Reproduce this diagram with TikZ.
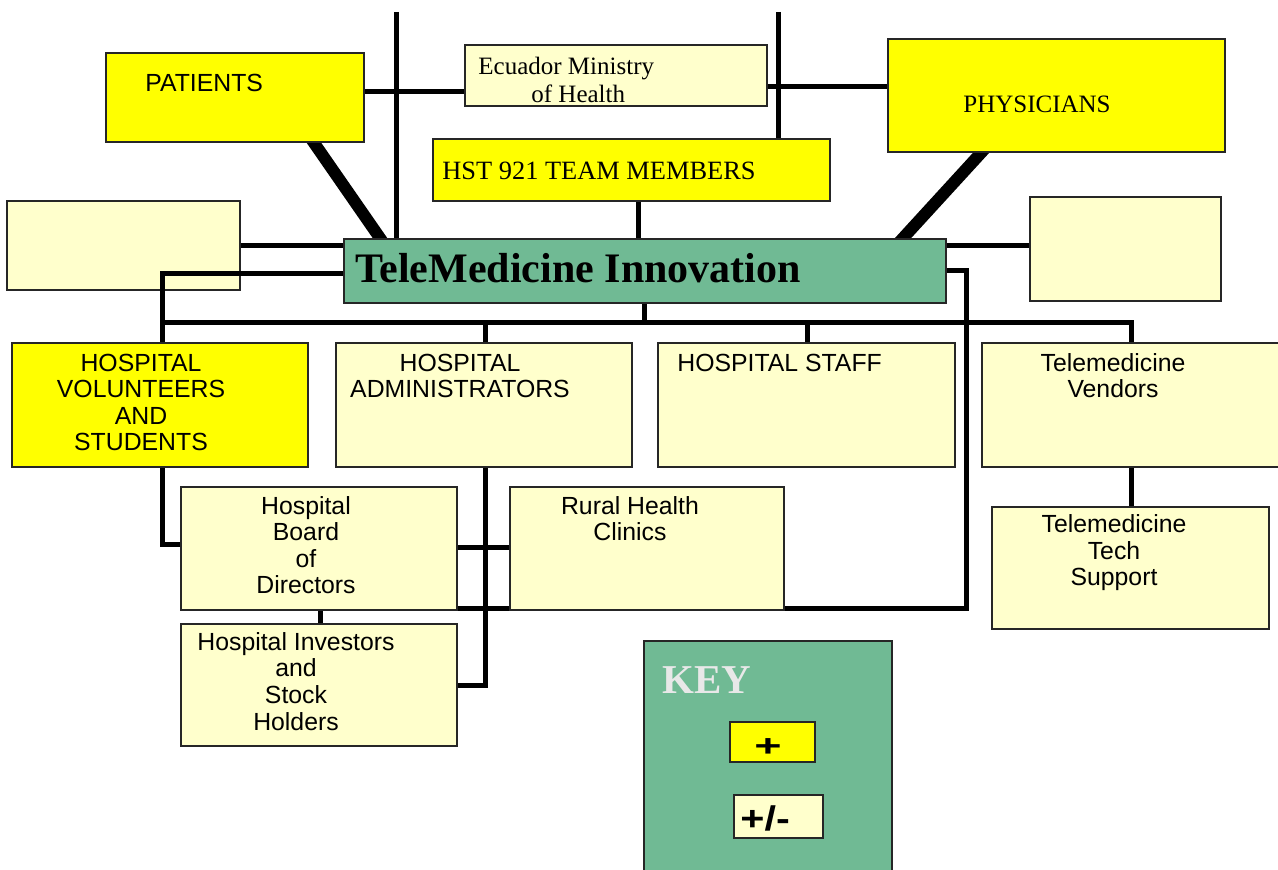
\documentclass[tikz,border=0pt]{standalone}
\usepackage{fontspec}
\setmainfont{Liberation Serif}
\setsansfont{Liberation Sans}
\usetikzlibrary{fit,backgrounds}
\definecolor{plusyellow}{RGB}{255,255,0}
\definecolor{mixyellow}{RGB}{255,255,204}
\definecolor{coregreen}{RGB}{112,186,148}
\definecolor{keygray}{RGB}{232,232,232}
\tikzset{
  plusbox/.style={draw=black!85, line width=0.9pt, fill=plusyellow, inner sep=0pt},
  mixbox/.style={plusbox, fill=mixyellow},
  corebox/.style={plusbox, fill=coregreen},
  link/.style={line width=2.5pt},
  heavy/.style={line width=6pt, shorten <=-4pt, shorten >=-4pt},
  sanstxt/.style={inner sep=0pt, align=center, font=\sffamily\fontsize{12.4}{13.3}\selectfont},
  seriftxt/.style={inner sep=0pt, align=left, font=\rmfamily\fontsize{12.5}{14}\selectfont}
}
\begin{document}
\begin{tikzpicture}[x=0.5pt, y=-0.5pt]
\useasboundingbox (0,0) rectangle (1278,870);
\node[plusbox, fit={(106,53) (364,142)}] (pat) {};
\node[mixbox, fit={(465,45) (767,106)}] (eco) {};
\node[plusbox, fit={(433,139) (830,201)}] (hst) {};
\node[plusbox, fit={(888,39) (1225,152)}] (phy) {};
\node[mixbox, fit={(7,201) (240,290)}] (lblank) {};
\node[mixbox, fit={(1030,197) (1221,301)}] (rblank) {};
\node[corebox, fit={(344,239) (946,303)}] (tm) {};
\node[plusbox, fit={(12,343) (308,467)}] (vol) {};
\node[mixbox, fit={(336,343) (632,467)}] (adm) {};
\node[mixbox, fit={(658,343) (955,467)}] (stf) {};
\node[mixbox, fit={(982,343) (1290,467)}] (ven) {};
\node[mixbox, fit={(181,487) (457,610)}] (brd) {};
\node[mixbox, fit={(510,487) (784,610)}] (rur) {};
\node[mixbox, fit={(181,624) (457,746)}] (inv) {};
\node[mixbox, fit={(992,507) (1269,629)}] (tec) {};
\node[corebox, fit={(644,641) (892,880)}] (key) {};
\node[plusbox, fit={(730,722) (815,762)}] (kplus) {};
\node[mixbox, fit={(734,795) (823,838)}] (kmix) {};

\begin{pgfonlayer}{background}
\draw[heavy] (pat.south -| 314,0) -- (tm.north -| 380,0);
\draw[heavy] (phy.south -| 981,0) -- (tm.north -| 903,0);
\end{pgfonlayer}

\coordinate (topL) at (396,12);
\coordinate (topR) at (778,12);
\coordinate (busL) at (162,323);
\draw[link] (topL) -- (topL |- tm.north);
\draw[link] (topR) -- (topR |- hst.north);
\draw[link] (pat.east |- 0,92) -- (eco.west |- 0,92);
\draw[link] (eco.east |- 0,87) -- (phy.west |- 0,87);
\draw[link] (hst.south -| 638,0) -- (tm.north -| 638,0);
\draw[link] (lblank.east |- 0,246) -- (tm.west |- 0,246);
\draw[link] (tm.east |- 0,246) -- (rblank.west |- 0,246);
\draw[link] (tm.west |- 0,274) -| (vol.north -| 162,0);
\draw[link] (busL) -| (ven.north -| 1131,0);
\foreach \x/\n in {485/adm,807/stf}
  \draw[link] (\x,323) -- (\n.north -| \x,0);
\draw[link] (tm.south -| 644,0) -- (644,323);
\draw[link] (tm.east |- 0,271) -| (966,608) -- (rur.east |- 0,608);
\draw[link] (ven.south -| 1131,0) -- (tec.north -| 1131,0);
\draw[link] (vol.south -| 162,0) |- (brd.west |- 0,545);
\draw[link] (brd.south -| 320,0) -- (inv.north -| 320,0);
\draw[link] (adm.south -| 485,0) |- (inv.east |- 0,685);
\draw[link] (brd.east |- 0,548) -- (rur.west |- 0,548);
\draw[link] (brd.east |- 0,608) -- (rur.west |- 0,608);

\node[sanstxt, anchor=base west] (patT) at (145,92) {PATIENTS};
\node[seriftxt, anchor=base west] (ecoT) at (478,103) {Ecuador Ministry\\\hspace*{26.5pt}of Health};
\node[seriftxt, font=\rmfamily\fontsize{13.2}{15}\selectfont, anchor=base west] (hstT) at (442,180) {HST 921 TEAM MEMBERS};
\node[seriftxt, anchor=base west] (phyT) at (963,113) {PHYSICIANS};
\node[inner sep=0pt, font=\rmfamily\bfseries\fontsize{21}{24}\selectfont, anchor=base west] (tmT) at (355,283) {TeleMedicine Innovation};
\node[sanstxt, anchor=base] (volT) at (141,451) {HOSPITAL\\VOLUNTEERS\\AND\\STUDENTS};
\node[sanstxt, anchor=base] (admT) at (460,398) {HOSPITAL\\ADMINISTRATORS};
\node[sanstxt, anchor=base west] (stfT) at (677,372) {HOSPITAL STAFF};
\node[sanstxt, anchor=base] (venT) at (1113,398) {Telemedicine\\Vendors};
\node[sanstxt, anchor=base] (brdT) at (306,594) {Hospital\\Board\\of\\Directors};
\node[sanstxt, anchor=base] (rurT) at (630,541) {Rural Health\\Clinics};
\node[sanstxt, anchor=base] (invT) at (296,730) {Hospital Investors\\and\\Stock\\Holders};
\node[sanstxt, anchor=base] (tecT) at (1114,586) {Telemedicine\\Tech\\Support};
\node[inner sep=0pt, font=\rmfamily\bfseries\fontsize{20.5}{24}\selectfont, text=keygray, anchor=base west] (keyT) at (662,693) {KEY};
\node[sanstxt, font=\sffamily\bfseries\fontsize{18}{20}\selectfont, anchor=base] (kplusT) at (768,756) {\scalebox{1.3}[0.85]{+}};
\node[sanstxt, font=\sffamily\bfseries\fontsize{18}{20}\selectfont, anchor=base west] (kmixT) at (740,830) {\scalebox{1.15}[0.95]{+/-}};
\end{tikzpicture}
\end{document}
